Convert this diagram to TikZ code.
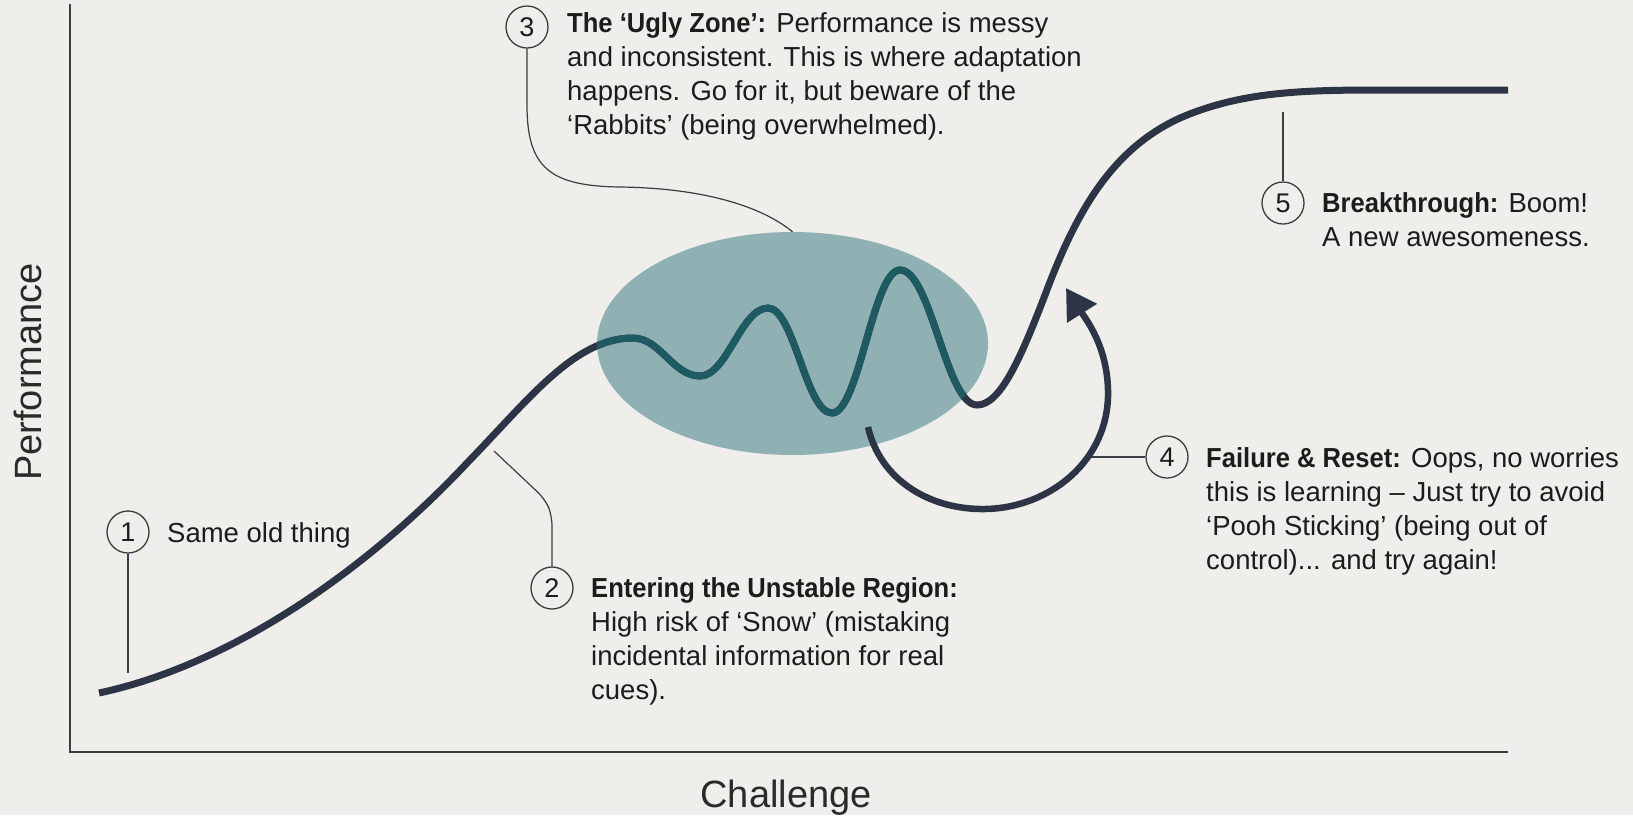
\documentclass[tikz,border=0pt]{standalone}
\usepackage{fontspec}
\setmainfont{Liberation Sans}[BoldFeatures={FakeStretch=0.93}]
\usetikzlibrary{arrows.meta,shapes.geometric}

\definecolor{bgc}{HTML}{EFEEEA}
\definecolor{navyc}{HTML}{2C3445}
\definecolor{tealc}{HTML}{1E5A61}
\definecolor{zonec}{HTML}{90B1B3}
\definecolor{linec}{HTML}{3A3D44}
\definecolor{textc}{HTML}{1C1C1C}
\definecolor{axistext}{HTML}{2A2A2A}

% the performance curve: slow start, wobbly zone, breakthrough plateau
\def\perfcurve{(99,693) .. controls (230,665) and (365,572) .. (468,462)
  .. controls (530,398) and (575,338) .. (633,338)
  .. controls (660,338) and (673,376) .. (700,376)
  .. controls (727,376) and (741,308) .. (768,308)
  .. controls (794,308) and (806,413) .. (832,413)
  .. controls (859,413) and (873,270) .. (900,270)
  .. controls (931,270) and (946,405) .. (977,405)
  .. controls (1000,405) and (1020,360) .. (1045,295)
  .. controls (1075,215) and (1110,150) .. (1180,118)
  .. controls (1240,92) and (1300,90) .. (1380,90) -- (1508,90)}

\begin{document}
\begin{tikzpicture}[x=1pt,y=-1pt,
  axisline/.style={draw=linec, line width=2pt},
  axislabel/.style={text=axistext, inner sep=0pt, font=\fontsize{38}{40}\selectfont},
  leader/.style={draw=linec, line width=1.2pt},
  numc/.style={circle, draw=linec, line width=1.3pt, minimum size=42pt,
    inner sep=0pt, text=textc, font=\fontsize{27}{30}\selectfont},
  note/.style={anchor=base west, inner sep=0pt, text=textc,
    font=\fontsize{27.5}{34.2}\selectfont},
  curveline/.style={line width=7pt, line cap=butt}]

% canvas
\fill[bgc] (0,0) rectangle (1633,815);
\useasboundingbox (0,0) rectangle (1633,815);

% axes
\coordinate (ytop) at (70,4);
\coordinate (orig) at (70,752);
\coordinate (xend) at (1508,752);
\draw[axisline] (ytop) -- (orig) -- (xend);
\node[axislabel, rotate=90] (ylab) at (28,372) {Performance};
\node[axislabel, anchor=base] (xlab) at (786,807) {Challenge};

% the ugly zone
\node[ellipse, fill=zonec, minimum width=391pt, minimum height=223pt,
  inner sep=0pt] (zone) at (792.5,343.5) {};

% numbered markers
\node[numc] (c1) at (128,532) {1};
\node[numc] (c2) at (552,588) {2};
\node[numc] (c3) at (527,27) {3};
\node[numc] (c4) at (1167,457) {4};
\node[numc] (c5) at (1283,203) {5};

% leader lines
\coordinate (l1) at (128,673);
\coordinate (l2) at (494,451);
\coordinate (l4) at (1089,457);
\coordinate (l5) at (1283,112);
\draw[leader] (l1) -- (c1.south);
\draw[leader, rounded corners=10pt] (l2) -- (545,499) -- (552,515) -- (c2.north);
\draw[leader] (c3.south) -- (527,105)
  .. controls (527,168) and (550,186) .. (620,187)
  .. controls (700,188) and (760,205) .. (zone.north);
\draw[leader] (l4) -- (c4.west);
\draw[leader] (l5) -- (c5.north);

% performance curve, teal where it passes through the zone
\draw[curveline, navyc] \perfcurve;
\begin{scope}
  \clip (zone.center) ellipse [x radius=195.5pt, y radius=111.5pt];
  \draw[curveline, tealc] \perfcurve;
\end{scope}

% failure and reset loop
\coordinate (r0) at (868,427);
\coordinate (rtip) at (1066,288);
\draw[navyc, line width=6.5pt, line cap=butt,
  -{Triangle[length=30pt,width=34pt]}]
  (r0) .. controls (880,480) and (930,510) .. (985,509)
  .. controls (1050,508) and (1110,460) .. (1108,390)
  .. controls (1107,345) and (1085,318) .. (rtip);

% annotations
\node[note] (t1) at (167,542) {Same old thing};
\node[note] (t2) at (591,597) {\begin{tabular}[t]{@{}l@{}}
  \textbf{Entering the Unstable Region:}\\
  High risk of ‘Snow’ (mistaking\\
  incidental information for real\\
  cues).\end{tabular}};
\node[note] (t3) at (567,32) {\begin{tabular}[t]{@{}l@{}}
  \textbf{The ‘Ugly Zone’:} Performance is messy\\
  and inconsistent. This is where adaptation\\
  happens. Go for it, but beware of the\\
  ‘Rabbits’ (being overwhelmed).\end{tabular}};
\node[note] (t4) at (1206,467) {\begin{tabular}[t]{@{}l@{}}
  \textbf{Failure \& Reset:} Oops, no worries\\
  this is learning – Just try to avoid\\
  ‘Pooh Sticking’ (being out of\\
  control)... and try again!\end{tabular}};
\node[note] (t5) at (1322,212) {\begin{tabular}[t]{@{}l@{}}
  \textbf{Breakthrough:} Boom!\\
  A new awesomeness.\end{tabular}};
\end{tikzpicture}
\end{document}
